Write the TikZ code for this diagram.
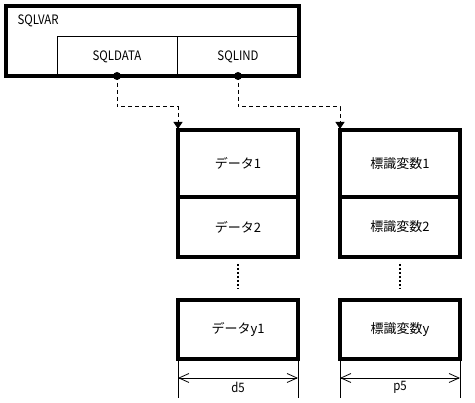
\documentclass[tikz,border=0pt]{standalone}
\usepackage{fontspec}
\setmainfont{Noto Sans CJK JP}
\newfontfamily\narrowfont[FakeStretch=0.88]{Noto Sans CJK JP}
\usetikzlibrary{arrows.meta}
\begin{document}
\begin{tikzpicture}[x=1pt,y=-1pt,
  every node/.style={font=\fontsize{13}{15}\selectfont},
  latin/.style={font=\narrowfont\fontsize{13}{15}\selectfont},
  thickbox/.style={draw,line width=4pt,inner sep=0pt,outer sep=0pt,anchor=north west},
  cell/.style={draw,line width=1pt,inner sep=0pt,outer sep=0pt,anchor=north west,minimum height=39pt},
  databox/.style={draw,line width=4pt,inner sep=0pt,outer sep=0pt,anchor=north west,minimum width=120pt},
  dot/.style={circle,fill,inner sep=0pt,minimum size=8pt},
  conn/.style={line width=1pt,dash pattern=on 4pt off 3pt,-{Triangle[length=7pt,width=9pt]},shorten >=1pt},
  vdots/.style={line width=2pt,dash pattern=on 2pt off 2pt},
  extline/.style={line width=0.8pt},
  dimline/.style={line width=0.8pt,{Straight Barb[length=10pt,width=9pt,line width=0.8pt]}-{Straight Barb[length=10pt,width=9pt,line width=0.8pt]}}
]
\useasboundingbox[fill=white] (0,0) rectangle (475,403);

% top structure
\node[thickbox,minimum width=293pt,minimum height=70pt] (sqlvar) at (6,6) {};
\node[latin,anchor=west] (sqlvarlabel) at (14,21) {SQLVAR};
\node[cell,minimum width=120pt,latin] (sqldata) at (57,37) {SQLDATA};
\node[cell,minimum width=122pt,latin] (sqlind) at (177,37) {SQLIND};
\draw[line width=4pt] (sqlvar.north west) rectangle (sqlvar.south east);

\node[dot] (p1) at (117,76) {};
\node[dot] (p2) at (238,76) {};

% data column
\node[databox,minimum height=67pt] (d1) at (178,130) {データ1};
\node[databox,minimum height=60pt] (d2) at (178,197) {データ2};
\node[databox,minimum height=59pt] (d3) at (178,300) {データy1};

% indicator column
\node[databox,minimum height=67pt] (i1) at (340,130) {標識変数1};
\node[databox,minimum height=60pt] (i2) at (340,197) {標識変数2};
\node[databox,minimum height=59pt] (i3) at (340,300) {標識変数y};

% connectors
\draw[conn] (p1.center) -- (117,107) -| (d1.north west);
\draw[conn] (p2.center) -- (238,107) -| (i1.north west);

% vertical dots
\draw[vdots] ([yshift=-7pt]d2.south) -- ([yshift=11pt]d3.north);
\draw[vdots] ([yshift=-7pt]i2.south) -- ([yshift=11pt]i3.north);

% dimensions
\coordinate (da) at ([yshift=-39pt]d3.south west);
\coordinate (db) at ([yshift=-39pt]d3.south east);
\coordinate (ia) at ([yshift=-39pt]i3.south west);
\coordinate (ib) at ([yshift=-39pt]i3.south east);
\draw[extline] (d3.south west) -- (da);
\draw[extline] (d3.south east) -- (db);
\draw[extline] (i3.south west) -- (ia);
\draw[extline] (i3.south east) -- (ib);
\draw[dimline] ([yshift=-19pt]d3.south west) -- ([yshift=-19pt]d3.south east)
  node[midway,below=0pt,latin] (dlab) {d5};
\draw[dimline] ([yshift=-19pt]i3.south west) -- ([yshift=-19pt]i3.south east)
  node[midway,below=0pt,latin] (ilab) {p5};
\end{tikzpicture}
\end{document}
